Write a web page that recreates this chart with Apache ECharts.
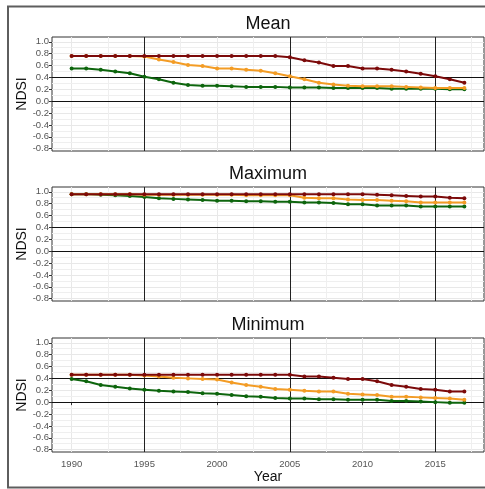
<!DOCTYPE html>
<html>
<head>
<meta charset="utf-8">
<script src="https://cdn.jsdelivr.net/npm/echarts@6/dist/echarts.min.js"></script>
<style>
  html, body { margin: 0; padding: 0; background: #fff; }
  #chart { width: 485px; height: 489px; }
</style>
</head>
<body>
<div id="chart"></div>
<script>
// Snow index (NDSI) trends per year, three statistics, three zones
const years = [1990, 1991, 1992, 1993, 1994, 1995, 1996, 1997, 1998, 1999,
               2000, 2001, 2002, 2003, 2004, 2005, 2006, 2007, 2008, 2009,
               2010, 2011, 2012, 2013, 2014, 2015, 2016, 2017];

const panelTitles = ['Mean', 'Maximum', 'Minimum'];

const meanRed    = [0.76, 0.76, 0.76, 0.76, 0.76, 0.76, 0.76, 0.76, 0.76, 0.76,
                    0.76, 0.76, 0.76, 0.76, 0.76, 0.74, 0.69, 0.65, 0.59, 0.59,
                    0.55, 0.55, 0.53, 0.50, 0.46, 0.42, 0.37, 0.31];
const meanOrange = [0.76, 0.76, 0.76, 0.76, 0.76, 0.75, 0.70, 0.66, 0.61, 0.59,
                    0.55, 0.55, 0.53, 0.51, 0.47, 0.42, 0.37, 0.31, 0.28, 0.26,
                    0.25, 0.25, 0.25, 0.24, 0.23, 0.22, 0.22, 0.22];
const meanGreen  = [0.55, 0.55, 0.53, 0.50, 0.47, 0.41, 0.37, 0.31, 0.27, 0.26,
                    0.26, 0.25, 0.24, 0.24, 0.24, 0.23, 0.23, 0.23, 0.22, 0.22,
                    0.22, 0.22, 0.21, 0.21, 0.21, 0.21, 0.20, 0.20];

const maxRed     = [0.96, 0.96, 0.96, 0.96, 0.96, 0.96, 0.96, 0.96, 0.96, 0.96,
                    0.96, 0.96, 0.96, 0.96, 0.96, 0.96, 0.96, 0.96, 0.96, 0.96,
                    0.96, 0.95, 0.94, 0.93, 0.92, 0.92, 0.90, 0.89];
const maxOrange  = [0.96, 0.96, 0.96, 0.96, 0.96, 0.95, 0.95, 0.95, 0.95, 0.95,
                    0.95, 0.95, 0.94, 0.94, 0.94, 0.94, 0.90, 0.89, 0.89, 0.87,
                    0.86, 0.86, 0.85, 0.84, 0.82, 0.82, 0.82, 0.82];
const maxGreen   = [0.96, 0.96, 0.95, 0.94, 0.93, 0.91, 0.89, 0.88, 0.87, 0.86,
                    0.85, 0.85, 0.84, 0.84, 0.83, 0.83, 0.82, 0.82, 0.81, 0.79,
                    0.79, 0.77, 0.77, 0.77, 0.75, 0.75, 0.75, 0.75];

const minRed     = [0.46, 0.46, 0.46, 0.46, 0.46, 0.46, 0.46, 0.46, 0.46, 0.46,
                    0.46, 0.46, 0.46, 0.46, 0.46, 0.46, 0.43, 0.43, 0.41, 0.39,
                    0.39, 0.35, 0.29, 0.26, 0.22, 0.21, 0.18, 0.18];
const minOrange  = [0.46, 0.46, 0.46, 0.46, 0.46, 0.45, 0.43, 0.41, 0.40, 0.39,
                    0.38, 0.33, 0.29, 0.26, 0.22, 0.21, 0.19, 0.18, 0.18, 0.14,
                    0.13, 0.12, 0.09, 0.09, 0.08, 0.07, 0.06, 0.04];
const minGreen   = [0.39, 0.35, 0.29, 0.26, 0.23, 0.21, 0.19, 0.18, 0.17, 0.15,
                    0.14, 0.12, 0.10, 0.09, 0.07, 0.06, 0.06, 0.05, 0.05, 0.04,
                    0.04, 0.04, 0.02, 0.02, 0.01, 0.00, -0.01, -0.01];

const yTicks  = [-0.8, -0.6, -0.4, -0.2, 0, 0.2, 0.4, 0.6, 0.8, 1.0];
const yMinor  = [-0.7, -0.5, -0.3, -0.1, 0.1, 0.3, 0.5, 0.7, 0.9];
const xTicks  = [1990, 1995, 2000, 2005, 2010, 2015];
const xMinor  = [1992.5, 1997.5, 2002.5, 2007.5, 2012.5, 2017.5];
const refYears  = [1995, 2005, 2015];
const refLevels = [0, 0.4];

const panels = [
  [meanGreen, meanOrange, meanRed],
  [maxGreen, maxOrange, maxRed],
  [minGreen, minOrange, minRed]
];
const colors = ['#0d650d', '#f39c25', '#7c0a0a'];

const FONT = 'Liberation Sans, Arial, sans-serif';
const gridTops = [37, 187, 338];
const gridH = 114, gridL = 52, gridW = 432;

const grids = [], xAxes = [], yAxes = [], series = [], graphics = [];

panels.forEach((lines, p) => {
  const isLast = p === panels.length - 1;
  grids.push({
    left: gridL, top: gridTops[p], width: gridW, height: gridH,
    show: true, borderColor: '#333', borderWidth: 1, backgroundColor: 'transparent'
  });
  xAxes.push({
    type: 'value', gridIndex: p, min: 1988.65, max: 2018.35,
    axisLine: { show: false },
    axisTick: { show: isLast, customValues: xTicks, length: 3, lineStyle: { color: '#333' } },
    axisLabel: { show: isLast, customValues: xTicks, margin: 7, fontSize: 9.5,
                 color: '#555', fontFamily: FONT, formatter: v => String(v) },
    splitLine: { show: true, lineStyle: { color: '#e8e8e8', width: 1 } }
  });
  yAxes.push({
    type: 'value', gridIndex: p, min: -0.84, max: 1.08,
    axisLine: { show: false },
    axisTick: { show: true, customValues: yTicks, length: 3, lineStyle: { color: '#333' } },
    axisLabel: { customValues: yTicks, margin: 3, fontSize: 9.5, color: '#555',
                 fontFamily: FONT, formatter: v => v.toFixed(1) },
    splitLine: { show: true, lineStyle: { color: '#e8e8e8', width: 1 } }
  });

  lines.forEach((vals, k) => {
    const s = {
      type: 'line', xAxisIndex: p, yAxisIndex: p,
      data: years.map((y, i) => [y, vals[i]]),
      symbol: 'circle', symbolSize: 4, showSymbol: true,
      lineStyle: { color: colors[k], width: 2 },
      itemStyle: { color: colors[k] },
      z: 3 + k, animation: false, silent: true
    };
    if (k === 0) {
      s.markLine = {
        silent: true, symbol: 'none', animation: false, z: 1,
        label: { show: false },
        data: [
          ...xMinor.map(v => ({ xAxis: v, lineStyle: { color: '#efefef', width: 1, type: 'solid' } })),
          ...yMinor.map(v => ({ yAxis: v, lineStyle: { color: '#efefef', width: 1, type: 'solid' } })),
          ...refYears.map(v => ({ xAxis: v, lineStyle: { color: '#222', width: 1, type: 'solid' } })),
          ...refLevels.map(v => ({ yAxis: v, lineStyle: { color: '#111', width: 1, type: 'solid' } }))
        ]
      };
    }
    series.push(s);
  });

  graphics.push({
    type: 'text', x: gridL + gridW / 2, y: gridTops[p] - 13,
    style: { text: panelTitles[p], font: '18px ' + FONT, fill: '#111',
             textAlign: 'center', textVerticalAlign: 'middle' }
  });
  graphics.push({
    type: 'text', x: 22, y: gridTops[p] + gridH / 2, rotation: Math.PI / 2,
    style: { text: 'NDSI', font: '14px ' + FONT, fill: '#111',
             textAlign: 'center', textVerticalAlign: 'middle' }
  });
});

graphics.push({
  type: 'text', x: gridL + gridW / 2, y: 477,
  style: { text: 'Year', font: '14px ' + FONT, fill: '#111',
           textAlign: 'center', textVerticalAlign: 'middle' }
});
graphics.push({
  type: 'rect', shape: { x: 8, y: 6.5, width: 500, height: 481 },
  style: { fill: 'none', stroke: '#5e5e5e', lineWidth: 2 }, z: 100
});

const chart = echarts.init(document.getElementById('chart'), null, { renderer: 'canvas' });
chart.setOption({
  animation: false,
  backgroundColor: '#fff',
  grid: grids,
  xAxis: xAxes,
  yAxis: yAxes,
  series: series,
  graphic: graphics
});
</script>
</body>
</html>
